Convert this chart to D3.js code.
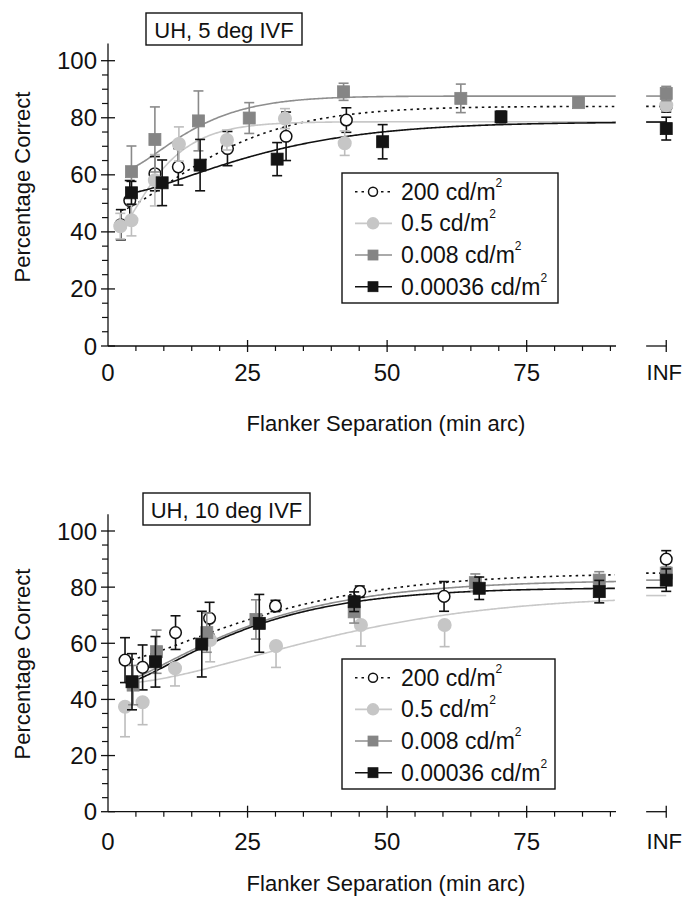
<!DOCTYPE html>
<html><head><meta charset="utf-8">
<script src="https://cdn.jsdelivr.net/npm/d3@7"></script>
<style>
body{margin:0;background:#fff}
svg{display:block}
text{font-family:"Liberation Sans",Arial,Helvetica,sans-serif;fill:#111}
</style>
</head><body>
<svg id="chart" width="683" height="903"></svg>
<script>
// ================= DATA =================
const seriesNames = ["200 cd/m", "0.5 cd/m", "0.008 cd/m", "0.00036 cd/m"];
const panelTitles = ["UH, 5 deg IVF", "UH, 10 deg IVF"];
const xTickValues = [0, 25, 50, 75];
const xTickLabels = ["0", "25", "50", "75"];
const infLabel = "INF";
const yTickValues = [0, 20, 40, 60, 80, 100];
const xAxisTitle = "Flanker Separation (min arc)";
const yAxisTitle = "Percentage Correct";

// ---- Top panel: UH, 5 deg IVF ----
const top200X = [2.3, 3.9, 8.4, 12.6, 21.4, 31.9, 42.7];
const top200Y = [42.5, 51.0, 60.4, 62.8, 69.2, 73.5, 79.2];
const top200E = [5.3, 7.0, 6.0, 6.4, 6.0, 8.5, 4.3];

const top05X = [2.2, 4.2, 8.4, 12.7, 21.3, 31.7, 42.4];
const top05Y = [42.0, 44.1, 58.1, 70.8, 72.2, 79.7, 71.1];
const top05E = [4.5, 5.5, 9.0, 6.0, 3.5, 3.5, 4.3];

const top008X = [4.2, 8.4, 16.2, 25.3, 42.2, 63.2, 84.3];
const top008Y = [61.1, 72.4, 78.9, 79.9, 89.1, 86.8, 85.3];
const top008E = [9.0, 11.4, 10.5, 5.4, 3.0, 5.0, 1.5];

const top00036X = [4.2, 9.7, 16.5, 30.3, 49.2, 70.4];
const top00036Y = [53.7, 57.2, 63.4, 65.5, 71.6, 80.3];
const top00036E = [4.0, 8.0, 9.0, 5.8, 6.0, 2.0];

const topInfY = [84.0, 84.4, 88.5, 76.2];
const topInfE = [2.0, 2.0, 2.5, 4.0];

// fitted curves  y = A - (A - y0) * exp(-(((x - x0) / c) ^ k))
const topFitA  = [84.0, 78.6, 87.6, 78.5];
const topFitX0 = [2.3, 4.0, 4.2, 4.2];
const topFitY0 = [47.5, 45.5, 62.5, 53.7];
const topFitC  = [20.5, 8.0, 13.5, 27.3];
const topFitK  = [1.35, 1.15, 1.33, 1.35];

// ---- Bottom panel: UH, 10 deg IVF ----
const bot200X = [3.05, 6.2, 12.1, 18.2, 30.0, 45.1, 60.2];
const bot200Y = [54.0, 51.4, 63.8, 68.9, 73.3, 78.4, 76.7];
const bot200E = [8.0, 8.0, 6.0, 5.7, 2.0, 2.0, 5.3];

const bot05X = [3.05, 6.2, 12.0, 18.3, 30.1, 45.3, 60.3];
const bot05Y = [37.4, 39.0, 51.1, 61.2, 59.0, 66.5, 66.5];
const bot05E = [10.7, 8.0, 6.3, 7.8, 7.6, 7.5, 7.7];

const bot008X = [4.5, 8.7, 17.7, 26.5, 44.1, 65.8, 88.0];
const bot008Y = [45.1, 57.0, 63.8, 68.5, 71.2, 81.6, 82.5];
const bot008E = [7.0, 7.7, 7.0, 7.0, 4.0, 3.1, 3.0];

const bot00036X = [4.3, 8.5, 16.8, 27.1, 44.1, 66.5, 88.0];
const bot00036Y = [46.3, 53.4, 59.7, 67.1, 74.8, 79.6, 78.4];
const bot00036E = [10.0, 9.0, 11.7, 10.3, 3.5, 4.0, 4.0];

const botInfY = [90.0, null, 85.0, 82.5];
const botInfE = [3.0, null, 2.0, 4.0];

const botFitA  = [85.0, 77.0, 82.5, 79.8];
const botFitX0 = [3.05, 3.05, 4.5, 4.3];
const botFitY0 = [53.8, 45.8, 47.5, 46.5];
const botFitC  = [31.3, 44.0, 26.0, 24.0];
const botFitK  = [1.33, 1.55, 1.2, 1.25];

// ================= STYLES =================
const styles = [
  {shape: "circle", fill: "#ffffff", stroke: "#111", r: 5.8, line: "#111", dash: "2.5,4", bar: "#111", legR: 4.5},
  {shape: "circle", fill: "#c6c6c6", stroke: "#c6c6c6", r: 6.3, line: "#c8c8c8", dash: null, bar: "#bdbdbd", legR: 5.5},
  {shape: "square", fill: "#858585", stroke: "#858585", s: 12, line: "#8e8e8e", dash: null, bar: "#8a8a8a", legS: 10},
  {shape: "square", fill: "#141414", stroke: "#141414", s: 12, line: "#111", dash: null, bar: "#111", legS: 10}
];

const X_MAX = 91, INF_X = 100, INF_SEG_START = 96.4;

const svg = d3.select("#chart");
const FONT_TICK = 24, FONT = 22, FONT_LEG = 23;

function zip(xs, ys, es) { return xs.map((x, i) => ({x: x, y: ys[i], e: es[i]})); }

const panels = [
  {
    title: panelTitles[0],
    series: [zip(top200X, top200Y, top200E), zip(top05X, top05Y, top05E),
             zip(top008X, top008Y, top008E), zip(top00036X, top00036Y, top00036E)],
    infY: topInfY, infE: topInfE,
    fit: {A: topFitA, x0: topFitX0, y0: topFitY0, c: topFitC, k: topFitK},
    errDir: ["both", "both", "both", "both"],
    yRange: [346, 60.7],
    titleBox: [146, 13, 156, 32],
    legendBox: [342, 173, 216, 130],
    xTitleY: 423, yTitleY: 187, tickLabelY: 372
  },
  {
    title: panelTitles[1],
    series: [zip(bot200X, bot200Y, bot200E), zip(bot05X, bot05Y, bot05E),
             zip(bot008X, bot008Y, bot008E), zip(bot00036X, bot00036Y, bot00036E)],
    infY: botInfY, infE: botInfE,
    fit: {A: botFitA, x0: botFitX0, y0: botFitY0, c: botFitC, k: botFitK},
    errDir: ["both", "down", "both", "both"],
    yRange: [811.7, 531],
    titleBox: [143, 493, 167, 32],
    legendBox: [342, 659, 213, 130],
    xTitleY: 883, yTitleY: 664, tickLabelY: 841
  }
];

const x = d3.scaleLinear().domain([0, X_MAX]).range([108, 616]);

panels.forEach(p => {
  const y = d3.scaleLinear().domain([0, 100]).range(p.yRange);
  const g = svg.append("g");
  const y0px = y(0);

  // ---- axes ----
  g.append("line").attr("x1", x(0)).attr("x2", x(0)).attr("y1", y(0)).attr("y2", y(106))
    .attr("stroke", "#111").attr("stroke-width", 1.3);
  d3.range(0, 101, 5).filter(v => v % 20 !== 0).forEach(v => {
    g.append("line").attr("x1", x(0) - 6).attr("x2", x(0)).attr("y1", y(v)).attr("y2", y(v))
      .attr("stroke", "#111").attr("stroke-width", 1.2);
  });
  yTickValues.forEach(v => {
    g.append("line").attr("x1", x(0) - 7).attr("x2", x(0) + 7).attr("y1", y(v)).attr("y2", y(v))
      .attr("stroke", "#111").attr("stroke-width", 1.3);
    g.append("text").attr("x", 97).attr("y", y(v)).attr("text-anchor", "end")
      .attr("dominant-baseline", "central").attr("font-size", FONT_TICK).text(v);
  });
  g.append("line").attr("x1", x(0)).attr("x2", x(X_MAX)).attr("y1", y0px).attr("y2", y0px)
    .attr("stroke", "#111").attr("stroke-width", 1.3);
  g.append("line").attr("x1", x(INF_SEG_START)).attr("x2", x(INF_X)).attr("y1", y0px).attr("y2", y0px)
    .attr("stroke", "#111").attr("stroke-width", 1.3);
  d3.range(5, X_MAX, 5).filter(v => v % 25 !== 0).forEach(v => {
    g.append("line").attr("x1", x(v)).attr("x2", x(v)).attr("y1", y0px).attr("y2", y0px + 5)
      .attr("stroke", "#111").attr("stroke-width", 1.2);
  });
  xTickValues.forEach((v, i) => {
    if (v > 0) g.append("line").attr("x1", x(v)).attr("x2", x(v)).attr("y1", y0px - 6).attr("y2", y0px + 6)
      .attr("stroke", "#111").attr("stroke-width", 1.3);
    g.append("text").attr("x", x(v)).attr("y", p.tickLabelY).attr("text-anchor", "middle")
      .attr("dominant-baseline", "central").attr("font-size", FONT_TICK).text(xTickLabels[i]);
  });
  g.append("line").attr("x1", x(INF_X)).attr("x2", x(INF_X)).attr("y1", y0px - 6).attr("y2", y0px + 6)
    .attr("stroke", "#111").attr("stroke-width", 1.3);
  g.append("text").attr("x", 682).attr("y", p.tickLabelY).attr("text-anchor", "end")
    .attr("dominant-baseline", "central").attr("font-size", FONT).text(infLabel);

  // axis titles
  g.append("text").attr("x", 386).attr("y", p.xTitleY).attr("text-anchor", "middle")
    .attr("dominant-baseline", "central").attr("font-size", FONT).text(xAxisTitle);
  g.append("text").attr("transform", `translate(22,${p.yTitleY}) rotate(-90)`).attr("text-anchor", "middle")
    .attr("dominant-baseline", "central").attr("font-size", FONT).text(yAxisTitle);

  // title box
  const tb = p.titleBox;
  g.append("rect").attr("x", tb[0]).attr("y", tb[1]).attr("width", tb[2]).attr("height", tb[3])
    .attr("fill", "#fff").attr("stroke", "#111").attr("stroke-width", 1.4);
  g.append("text").attr("x", tb[0] + tb[2] / 2).attr("y", tb[1] + tb[3] / 2 + 1).attr("text-anchor", "middle")
    .attr("dominant-baseline", "central").attr("font-size", FONT).text(p.title);

  // ---- fitted curves ----
  const line = d3.line().x(d => x(d[0])).y(d => y(d[1]));
  styles.forEach((st, i) => {
    const A = p.fit.A[i], x0 = p.fit.x0[i], yy0 = p.fit.y0[i], c = p.fit.c[i], k = p.fit.k[i];
    const f = xv => A - (A - yy0) * Math.exp(-Math.pow((xv - x0) / c, k));
    const pts = d3.range(x0, X_MAX + 0.001, 0.25).map(xv => [xv, f(xv)]);
    const path = g.append("path").attr("d", line(pts)).attr("fill", "none")
      .attr("stroke", st.line).attr("stroke-width", 1.6);
    if (st.dash) path.attr("stroke-dasharray", st.dash);
    const seg = g.append("line").attr("x1", x(INF_SEG_START)).attr("x2", x(INF_X))
      .attr("y1", y(A)).attr("y2", y(A)).attr("stroke", st.line).attr("stroke-width", 1.6);
    if (st.dash) seg.attr("stroke-dasharray", st.dash);
  });

  // ---- error bars + markers ----
  function drawMarker(sel, st, cx, cy, leg) {
    if (st.shape === "circle") {
      sel.append("circle").attr("cx", cx).attr("cy", cy).attr("r", (leg ? st.legR : st.r))
        .attr("fill", st.fill).attr("stroke", st.stroke).attr("stroke-width", 1.5);
    } else {
      const s = leg ? st.legS : st.s;
      sel.append("rect").attr("x", cx - s / 2).attr("y", cy - s / 2).attr("width", s).attr("height", s)
        .attr("fill", st.fill).attr("stroke", st.stroke).attr("stroke-width", 0.8);
    }
  }
  styles.forEach((st, i) => {
    const pts = p.series[i].slice();
    if (p.infY[i] !== null) pts.push({x: INF_X, y: p.infY[i], e: p.infE[i]});
    const dir = p.errDir[i];
    const gs = g.append("g");
    pts.forEach(d => {
      const cx = x(d.x);
      const hi = dir === "down" ? d.y : d.y + d.e;
      const lo = dir === "up" ? d.y : d.y - d.e;
      gs.append("line").attr("x1", cx).attr("x2", cx).attr("y1", y(lo)).attr("y2", y(hi))
        .attr("stroke", st.bar).attr("stroke-width", 1.6);
      if (dir !== "down") gs.append("line").attr("x1", cx - 5).attr("x2", cx + 5).attr("y1", y(hi)).attr("y2", y(hi))
        .attr("stroke", st.bar).attr("stroke-width", 1.6);
      if (dir !== "up") gs.append("line").attr("x1", cx - 5).attr("x2", cx + 5).attr("y1", y(lo)).attr("y2", y(lo))
        .attr("stroke", st.bar).attr("stroke-width", 1.6);
    });
    pts.forEach(d => drawMarker(gs, st, x(d.x), y(d.y), false));
  });

  // ---- legend ----
  const lb = p.legendBox;
  const lg = g.append("g");
  lg.append("rect").attr("x", lb[0]).attr("y", lb[1]).attr("width", lb[2]).attr("height", lb[3])
    .attr("fill", "#fff").attr("stroke", "#111").attr("stroke-width", 1.4);
  const rowY = d3.scalePoint().domain(d3.range(4)).range([lb[1] + 18.7, lb[1] + 113.7]);
  styles.forEach((st, i) => {
    const ry = rowY(i);
    const l = lg.append("line").attr("x1", lb[0] + 13).attr("x2", lb[0] + 50).attr("y1", ry).attr("y2", ry)
      .attr("stroke", st.line).attr("stroke-width", 1.6);
    if (st.dash) l.attr("stroke-dasharray", st.dash);
    drawMarker(lg, st, lb[0] + 31, ry, true);
    const t = lg.append("text").attr("x", lb[0] + 59).attr("y", ry).attr("dominant-baseline", "central")
      .attr("font-size", FONT_LEG);
    t.append("tspan").text(seriesNames[i]);
    t.append("tspan").attr("font-size", 12).attr("dy", -9).text("2");
  });
});
</script>
</body></html>
